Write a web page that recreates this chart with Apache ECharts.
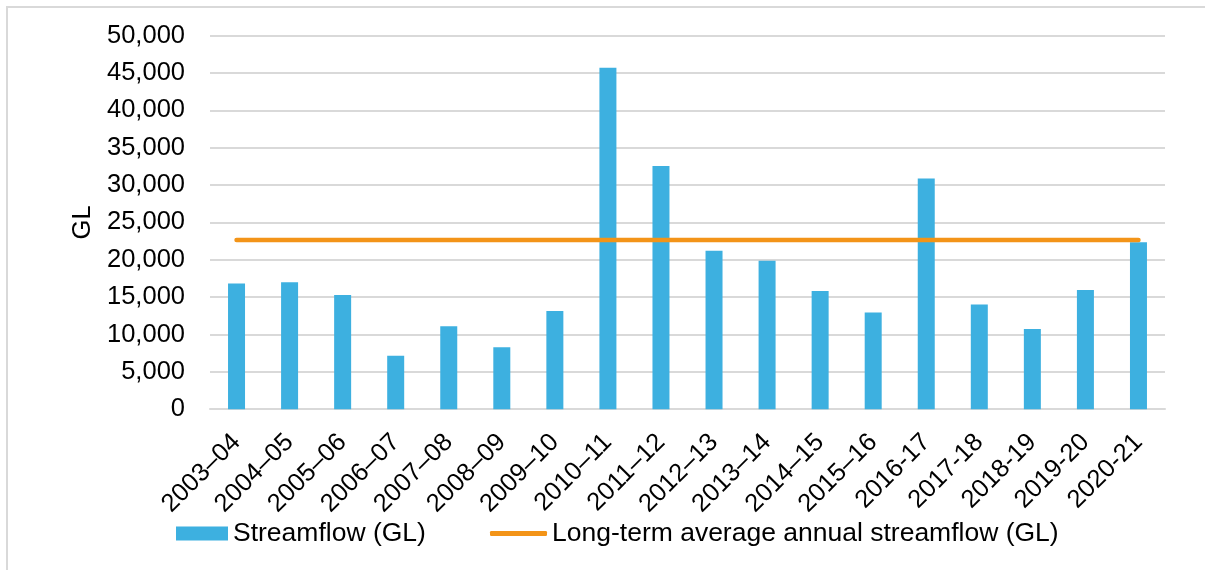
<!DOCTYPE html>
<html>
<head>
<meta charset="utf-8">
<title>Streamflow</title>
<script src="https://cdn.jsdelivr.net/npm/echarts@6/dist/echarts.min.js"></script>
<style>
  html, body { margin: 0; padding: 0; background: #ffffff; }
  #frame { position: absolute; left: 6px; top: 6px; width: 1199px; height: 564px;
           border-left: 2px solid #d9d9d9; border-top: 2px solid #d9d9d9; box-sizing: border-box; }
  #chart { position: absolute; left: 0; top: 0; width: 1205px; height: 570px; }
</style>
</head>
<body>
<div id="frame"></div>
<div id="chart"></div>
<script>
// Water years
const years = [
  '2003–04', '2004–05', '2005–06', '2006–07', '2007–08', '2008–09',
  '2009–10', '2010–11', '2011–12', '2012–13', '2013–14', '2014–15',
  '2015–16', '2016-17', '2017-18', '2018-19', '2019-20', '2020-21'
];

// Annual streamflow (GL)
const streamflow = [
  16840, 16990, 15290, 7150, 11100, 8300,
  13150, 45700, 32550, 21200, 19860, 15820,
  12960, 30880, 14000, 10740, 15960, 22340
];

// Long-term average annual streamflow (GL)
const longTermAverage = 22650;
const averageLine = years.map(() => longTermAverage);

// Value axis ticks
const yMin = 0;
const yMax = 50000;
const yStep = 5000;

const fontFamily = '"Liberation Sans", Arial, sans-serif';
const legendText = { fontSize: 26.5, color: '#000000', fontFamily: fontFamily };
const chart = echarts.init(document.getElementById('chart'), null, { renderer: 'canvas' });

chart.setOption({
  animation: false,
  textStyle: { fontFamily: fontFamily },
  grid: { left: 210, right: 40, top: 35.7, bottom: 160.8 },
  legend: [
    {
      left: 171,
      top: 515,
      itemWidth: 52,
      itemHeight: 14,
      textStyle: legendText,
      data: [{ name: 'Streamflow (GL)', icon: 'rect' }]
    },
    {
      left: 485,
      top: 515,
      itemWidth: 57,
      itemHeight: 5,
      textStyle: legendText,
      data: [{ name: 'Long-term average annual streamflow (GL)', icon: 'roundRect' }]
    }
  ],
  xAxis: {
    type: 'category',
    data: years,
    boundaryGap: true,
    axisLine: { lineStyle: { color: '#d9d9d9', width: 2 } },
    axisTick: { show: false },
    axisLabel: {
      rotate: 45,
      interval: 0,
      margin: 29,
      fontSize: 25.5,
      color: '#000000',
      fontFamily: fontFamily
    }
  },
  yAxis: {
    type: 'value',
    min: yMin,
    max: yMax,
    interval: yStep,
    name: 'GL',
    nameLocation: 'middle',
    nameRotate: 90,
    nameGap: 114,
    nameTextStyle: { fontSize: 25.5, color: '#000000', fontFamily: fontFamily },
    axisLine: { show: false },
    axisTick: { show: false },
    splitLine: { lineStyle: { color: '#d9d9d9', width: 2 } },
    axisLabel: {
      margin: 25,
      fontSize: 25.5,
      color: '#000000',
      fontFamily: fontFamily,
      formatter: v => v.toLocaleString('en-US')
    }
  },
  series: [
    {
      name: 'Streamflow (GL)',
      type: 'bar',
      data: streamflow,
      barWidth: 17,
      itemStyle: { color: '#3db0e0' },
      z: 2
    },
    {
      name: 'Long-term average annual streamflow (GL)',
      type: 'line',
      data: averageLine,
      symbol: 'none',
      lineStyle: { color: '#f39418', width: 4.5, cap: 'round' },
      itemStyle: { color: '#f39418' },
      z: 3
    }
  ]
});
</script>
</body>
</html>
